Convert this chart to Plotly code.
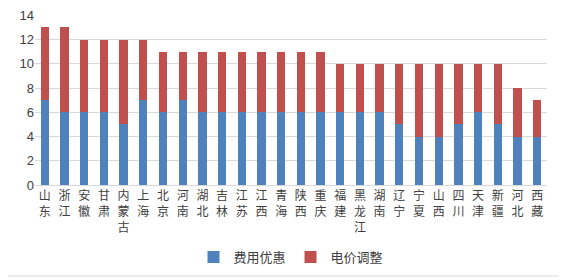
import plotly.graph_objects as go

categories = ["山东", "浙江", "安徽", "甘肃", "内蒙古", "上海", "北京", "河南", "湖北", "吉林",
              "江苏", "江西", "青海", "陕西", "重庆", "福建", "黑龙江", "湖南", "辽宁", "宁夏",
              "山西", "四川", "天津", "新疆", "河北", "西藏"]
fee_discount = [7, 6, 6, 6, 5, 7, 6, 7, 6, 6, 6, 6, 6, 6, 6, 6, 6, 6, 5, 4, 4, 5, 6, 5, 4, 4]
price_adjust = [6, 7, 6, 6, 7, 5, 5, 4, 5, 5, 5, 5, 5, 5, 5, 4, 4, 4, 5, 6, 6, 5, 4, 5, 4, 3]
y_ticks = [0, 2, 4, 6, 8, 10, 12, 14]

tick_text = ["<br>".join(list(c)) for c in categories]

# page has an 8px body margin; compensate so the page positions match the reference
OFF = 8
W, H = 567 - OFF, 280 - OFF
ml, mr, mt, mb = 35 - OFF, 20, 15 - OFF, 95

fig = go.Figure()
fig.add_trace(go.Bar(x=categories, y=fee_discount, name="费用优惠",
                     marker=dict(color="#4F81BD", line=dict(width=0))))
fig.add_trace(go.Bar(x=categories, y=price_adjust, name="电价调整",
                     marker=dict(color="#C0504D", line=dict(width=0))))

pw = W - ml - mr
ph = H - mt - mb
bx = (562 - OFF - ml) / pw
by = (H - mb - (276 - OFF)) / ph
ty = (H - mb) / ph
fig.add_shape(type="line", xref="paper", yref="paper", x0=bx, x1=bx, y0=by, y1=ty,
              line=dict(color="#D9D9D9", width=1), layer="below")
fig.add_shape(type="line", xref="paper", yref="paper", x0=-ml / pw, x1=bx, y0=by, y1=by,
              line=dict(color="#D9D9D9", width=1), layer="below")

fig.update_layout(
    width=W, height=H,
    barmode="stack", bargap=0.58,
    margin=dict(l=ml, r=mr, t=mt, b=mb, autoexpand=False),
    paper_bgcolor="white", plot_bgcolor="white",
    font=dict(family="Noto Sans CJK SC, Arial", size=12, color="#404040"),
    xaxis=dict(tickmode="array", tickvals=categories, ticktext=tick_text,
               tickangle=0, showline=True, linecolor="#D9D9D9", linewidth=1,
               ticks="", showgrid=False, automargin=False,
               tickfont=dict(size=12, color="#404040")),
    yaxis=dict(range=[0, 14.03], tickvals=y_ticks, showgrid=True, gridcolor="#D9D9D9",
               gridwidth=1, zeroline=False, showline=False, ticks="", automargin=False,
               ticklabeloverflow="allow",
               tickfont=dict(family="Arial", size=13, color="#404040")),
    legend=dict(orientation="h", x=0.5, xanchor="center",
                yref="container", y=(280 - 257) / H, yanchor="middle",
                font=dict(size=13, color="#404040"), traceorder="normal",
                itemwidth=30),
    showlegend=True,
)

fig.write_html("out.html")
